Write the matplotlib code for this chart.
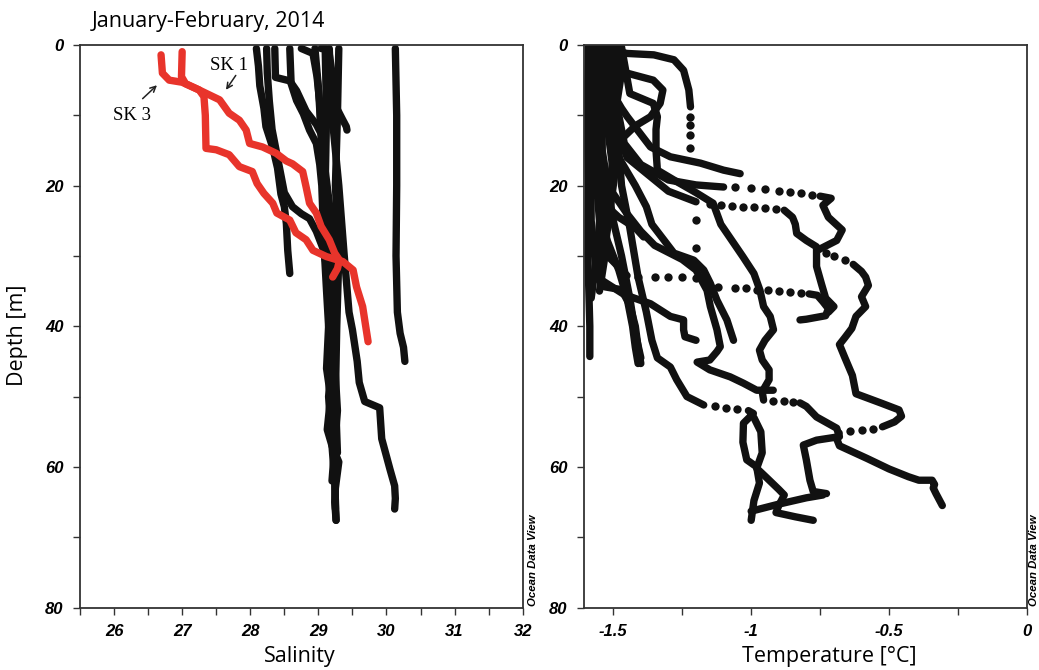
import numpy as np
import matplotlib.pyplot as plt
from matplotlib.ticker import FixedLocator, MultipleLocator

plt.rcParams['font.family'] = ['Liberation Sans', 'DejaVu Sans']

# ---- salinity profiles: (salinity, depth m)
sal_b1 = [(28.09, 0.5), (28.12, 3), (28.14, 5.8), (28.2, 9), (28.23, 11.6), (28.33, 14.6),
          (28.40, 17.5), (28.45, 21.2), (28.5, 23), (28.53, 25.4), (28.55, 29.2), (28.58, 32.5)]
sal_b2 = [(28.24, 0.5), (28.25, 4), (28.28, 8), (28.32, 12), (28.38, 15), (28.44, 18), (28.5, 21),
          (28.62, 23), (28.75, 24), (28.87, 24.7), (28.97, 26.5), (29.07, 29), (29.15, 33),
          (29.18, 40), (29.2, 47), (29.22, 55), (29.24, 60), (29.25, 66)]
sal_b3 = [(28.36, 0.5), (28.37, 4.6), (28.58, 5.1), (28.68, 6.5), (28.82, 9.4), (28.97, 11.3),
          (29.07, 13.2), (29.1, 18), (29.12, 25), (29.15, 32), (29.17, 40), (29.16, 48), (29.18, 55)]
sal_b4 = [(28.58, 0.5), (28.6, 5.5), (28.68, 7.9), (28.78, 9.8), (28.87, 12.1), (28.97, 14),
          (29.02, 17), (29.05, 20), (29.08, 28), (29.12, 35), (29.15, 40)]
sal_b5 = [(28.75, 0.5), (28.92, 1.2), (28.98, 4.5), (29.02, 8.2), (29.05, 15), (29.08, 22),
          (29.12, 30), (29.18, 38), (29.2, 45), (29.15, 50), (29.2, 57), (29.24, 62), (29.26, 67.6)]
sal_b6 = [(29.04, 0.5), (29.15, 0.6), (29.2, 4), (29.26, 8.8), (29.35, 10.5), (29.41, 11.6), (29.42, 12.1)]
sal_b7 = [(29.16, 0.5), (29.2, 10), (29.3, 20), (29.38, 30), (29.45, 38), (29.5, 40.5), (29.57, 45),
          (29.6, 48), (29.68, 50.7), (29.9, 51.6), (29.93, 56), (30.0, 58.5), (30.05, 60.3),
          (30.12, 62.7), (30.13, 64.5), (30.12, 66)]
sal_b8 = [(30.13, 0.5), (30.15, 10), (30.15, 20), (30.14, 30), (30.16, 38), (30.2, 41), (30.25, 43), (30.27, 45)]
sal_b9 = [(29.1, 0.5), (29.12, 10), (29.1, 20), (29.2, 30), (29.15, 40), (29.12, 46), (29.18, 50),
          (29.13, 54.7), (29.2, 57), (29.3, 59.3), (29.25, 63), (29.24, 65), (29.26, 67.6)]
sal_b10 = [(29.3, 0.5), (29.28, 10), (29.25, 20), (29.3, 30), (29.27, 40), (29.25, 50), (29.28, 58)]
sal_b11 = [(28.95, 0.5), (29.0, 6), (29.05, 14), (29.18, 24), (29.25, 32), (29.22, 42), (29.28, 52), (29.2, 62)]

sal_sk3 = [(26.69, 1.4), (26.71, 4.0), (26.81, 5.0), (27.0, 5.3), (27.25, 6.4), (27.32, 7.35),
           (27.34, 10), (27.35, 14.7), (27.5, 14.9), (27.69, 15.6), (27.84, 17.3), (28.03, 18.0),
           (28.1, 19.7), (28.2, 21.1), (28.33, 22.5), (28.39, 23.9), (28.58, 24.9), (28.67, 26.7),
           (28.82, 27.7), (28.92, 29.2), (29.12, 30.1), (29.36, 30.8), (29.51, 32.0), (29.56, 34.4),
           (29.65, 37.2), (29.73, 42.2)]
sal_sk1 = [(27.0, 0.95), (26.99, 4.5), (27.05, 5.5), (27.25, 6.4), (27.55, 7.8), (27.69, 9.7),
           (27.84, 10.7), (27.94, 12.1), (27.99, 14.0), (28.18, 14.5), (28.38, 15.4), (28.53, 16.5),
           (28.62, 16.9), (28.77, 18.0), (28.82, 20.2), (28.87, 22.5), (28.97, 23.9), (29.04, 25.8),
           (29.16, 27.7), (29.24, 29.6), (29.31, 30.6), (29.28, 31.8), (29.21, 33.0)]

# ---- temperature profiles: (degC, depth m); *_dots are the sparsely sampled stretches
temp_tb1 = [(-1.59, 0.3), (-1.595, 10), (-1.59, 20), (-1.592, 30), (-1.585, 40), (-1.585, 44.3)]
temp_tb2 = [(-1.57, 0.3), (-1.56, 8), (-1.57, 15), (-1.55, 25), (-1.56, 33), (-1.53, 34.4),
            (-1.47, 34.8), (-1.44, 37), (-1.42, 40), (-1.41, 43), (-1.40, 45.3)]
temp_tb3 = [(-1.545, 0.3), (-1.54, 15), (-1.5, 25), (-1.47, 30), (-1.44, 36), (-1.42, 41), (-1.40, 44.5)]
temp_tb4 = [(-1.51, 0.3), (-1.50, 5), (-1.52, 12), (-1.50, 18), (-1.53, 24), (-1.56, 30), (-1.58, 36)]
temp_tb5 = [(-1.48, 0.3), (-1.47, 4), (-1.49, 9), (-1.48, 14), (-1.5, 20), (-1.52, 26), (-1.55, 33)]
temp_s7 = [(-1.57, 0.3), (-1.56, 20), (-1.53, 27), (-1.48, 32), (-1.45, 36), (-1.43, 40), (-1.42, 43), (-1.41, 45.3)]
temp_s2 = [(-1.55, 0.3), (-1.53, 5), (-1.47, 9), (-1.449, 10.2), (-1.365, 14.5), (-1.293, 15.9),
           (-1.184, 16.8), (-1.10, 17.8), (-1.04, 18.3)]
temp_t1 = [(-1.56, 0.3), (-1.45, 1.2), (-1.353, 1.4), (-1.28, 2.1), (-1.245, 3.6), (-1.226, 6.4), (-1.22, 8.8)]
temp_t1_dots = [(-1.22, 10.2), (-1.22, 11.4), (-1.22, 12.8), (-1.22, 14.7), (-1.20, 24.9), (-1.20, 28.9)]
temp_t2 = [(-1.5, 0.3), (-1.48, 2.5), (-1.45, 4.0), (-1.355, 5.0), (-1.32, 6.4), (-1.33, 8.3),
           (-1.365, 10.2), (-1.42, 11.5), (-1.46, 13), (-1.5, 16), (-1.52, 22), (-1.53, 30), (-1.55, 35)]
temp_t3 = [(-1.47, 0.3), (-1.44, 6.9), (-1.355, 8.3), (-1.34, 10.2), (-1.345, 12), (-1.345, 15),
           (-1.34, 17.8), (-1.28, 19.2), (-1.2, 21), (-1.138, 22.5), (-1.11, 25.5), (-1.07, 27.8),
           (-1.03, 30.1), (-0.99, 32.5), (-0.968, 34.9), (-0.955, 37.2), (-0.931, 38.6), (-0.919, 40.5),
           (-0.95, 42), (-0.97, 43.4), (-0.96, 44.8), (-0.935, 46.2), (-0.935, 47.6), (-0.96, 49.3),
           (-0.955, 50.5)]
temp_t3_dots = [(-0.92, 50.6), (-0.88, 50.7), (-0.85, 50.8)]
temp_t3b = [(-0.823, 50.9), (-0.80, 51.4), (-0.763, 52.9), (-0.69, 54.5), (-0.68, 55.7), (-0.763, 56.2),
            (-0.811, 56.9), (-0.80, 59.0), (-0.787, 61.9), (-0.775, 63.5), (-0.727, 63.8)]
temp_s4 = [(-1.53, 0.3), (-1.52, 10), (-1.48, 16), (-1.42, 20), (-1.38, 23), (-1.36, 25.5),
           (-1.317, 27.7), (-1.28, 29.6), (-1.208, 30.6), (-1.172, 32), (-1.148, 33.9),
           (-1.124, 36.3), (-1.088, 39.1), (-1.064, 42)]
temp_s5 = [(-1.58, 0.3), (-1.57, 15), (-1.52, 20), (-1.45, 24), (-1.40, 26.5), (-1.35, 28.5),
           (-1.25, 30.5), (-1.2, 32), (-1.16, 34.9), (-1.148, 37.2), (-1.124, 40.5), (-1.112, 42.9),
           (-1.124, 43.6), (-1.15, 44.8), (-1.196, 45.1), (-1.15, 46.2), (-1.076, 47.2),
           (-1.028, 48.1), (-0.98, 49.1), (-0.92, 49.1)]
temp_lb = [(-1.59, 0.3), (-1.58, 20), (-1.55, 22), (-1.48, 24.5), (-1.42, 26), (-1.39, 27.3)]
temp_s6 = [(-1.585, 0.3), (-1.58, 25), (-1.56, 33), (-1.46, 35.5), (-1.365, 36.8), (-1.293, 38.6),
           (-1.245, 39.1), (-1.245, 40.5), (-1.24, 41.5), (-1.2, 42.0)]
temp_lg = [(-1.55, 0.3), (-1.54, 18), (-1.52, 30), (-1.45, 32.8)]
temp_lg_dots = [(-1.41, 33.0), (-1.35, 33.0), (-1.30, 33.0), (-1.25, 33.0), (-1.2, 33.2), (-1.12, 34.4),
                (-1.06, 34.5), (-1.02, 34.6), (-0.98, 34.8), (-0.94, 34.9), (-0.90, 35.0),
                (-0.86, 35.1), (-0.82, 35.2)]
temp_lg2 = [(-0.79, 35.4), (-0.76, 35.6), (-0.74, 36.5), (-0.72, 37.5), (-0.73, 38.5), (-0.80, 39.0), (-0.823, 39.1)]
temp_le = [(-1.52, 0.3), (-1.5, 10), (-1.45, 16), (-1.3, 20.8), (-1.2, 22.3)]
temp_le_dots = [(-1.15, 22.6), (-1.11, 22.8), (-1.07, 22.9), (-1.03, 23.0), (-0.99, 23.1), (-0.95, 23.2), (-0.91, 23.3)]
temp_le2 = [(-0.88, 23.5), (-0.85, 24.5), (-0.84, 25.5), (-0.835, 26.8), (-0.80, 27.8), (-0.763, 28.7),
            (-0.763, 31.5), (-0.745, 34.0), (-0.73, 36.0), (-0.70, 37.2), (-0.72, 38.0)]
temp_r = [(-1.5, 0.3), (-1.49, 8), (-1.46, 14), (-1.40, 17), (-1.3, 19.2), (-1.2, 19.9), (-1.1, 20.2)]
temp_r_dots = [(-1.06, 20.2), (-1.00, 20.3), (-0.95, 20.5), (-0.90, 20.7), (-0.86, 20.9), (-0.82, 21.1), (-0.78, 21.3)]
temp_r2 = [(-0.75, 21.5), (-0.71, 21.8), (-0.74, 22.8), (-0.72, 24.5), (-0.67, 26.3), (-0.69, 27.8), (-0.76, 29.2)]
temp_r2_dots = [(-0.73, 29.6), (-0.70, 30.0), (-0.66, 30.6)]
temp_r3 = [(-0.63, 31.2), (-0.60, 32.2), (-0.585, 33.0), (-0.575, 34.2), (-0.60, 35.8), (-0.585, 37.2),
           (-0.62, 38.6), (-0.635, 40.3), (-0.66, 41.6), (-0.68, 42.6), (-0.66, 44.5), (-0.633, 47.0),
           (-0.62, 49.6), (-0.524, 51.0), (-0.464, 51.9), (-0.455, 52.8), (-0.48, 53.6), (-0.524, 54.3)]
temp_r3_dots = [(-0.56, 54.6), (-0.60, 54.8), (-0.64, 54.9)]
temp_r4 = [(-0.681, 55.2), (-0.69, 56.0), (-0.68, 57.0), (-0.58, 58.8), (-0.50, 60.3), (-0.43, 61.4),
           (-0.392, 61.9), (-0.344, 61.9), (-0.335, 62.5), (-0.34, 63.0), (-0.33, 63.8), (-0.307, 65.5)]
temp_s8 = [(-1.5, 0.3), (-1.49, 10), (-1.47, 20), (-1.44, 26), (-1.41, 33), (-1.38, 38), (-1.36, 42),
           (-1.34, 44.5), (-1.293, 45.8), (-1.27, 47.6), (-1.233, 50), (-1.172, 51.2)]
temp_s8_dots = [(-1.13, 51.4), (-1.09, 51.6), (-1.05, 51.8)]
temp_s8b = [(-1.01, 52.0), (-0.992, 52.4), (-1.028, 53.8), (-1.03, 56.5), (-1.016, 59), (-0.98, 60),
            (-0.97, 62.3), (-0.99, 64.8), (-1.0, 67.6)]
temp_n = [(-0.99, 53.0), (-0.965, 55), (-0.96, 58), (-0.98, 60.2), (-0.945, 61.5), (-0.90, 63.2),
          (-0.88, 64), (-0.90, 65.5), (-0.91, 66.5), (-0.84, 67.1), (-0.775, 67.6)]
temp_x = [(-1.0, 66.3), (-0.90, 65.3), (-0.80, 64.4), (-0.74, 64.0)]

sal_black = [sal_b1, sal_b2, sal_b3, sal_b4, sal_b5, sal_b6, sal_b7, sal_b8, sal_b9, sal_b10, sal_b11]
sal_red = [sal_sk3, sal_sk1]
temp_lines = [temp_tb1, temp_tb2, temp_tb3, temp_tb4, temp_tb5, temp_s7, temp_s2, temp_t1, temp_t2,
              temp_t3, temp_t3b, temp_s4, temp_s5, temp_lb, temp_s6, temp_lg, temp_lg2, temp_le,
              temp_le2, temp_r, temp_r2, temp_r3, temp_r4, temp_s8, temp_s8b, temp_n, temp_x]
temp_dots = [temp_t1_dots, temp_t3_dots, temp_lg_dots, temp_le_dots, temp_r_dots, temp_r2_dots,
             temp_r3_dots, temp_s8_dots]

sal_ticks = [26, 27, 28, 29, 30, 31, 32]
temp_ticks = [-1.5, -1, -0.5, 0]
temp_tick_labels = ['-1.5', '-1', '-0.5', '0']
depth_ticks = [0, 20, 40, 60, 80]

W, H = 1039, 670
fig = plt.figure(figsize=(W / 100, H / 100), dpi=100)
ax1 = fig.add_axes([80 / W, 62.5 / H, 442.7 / W, 562.5 / H])
ax2 = fig.add_axes([584.3 / W, 62.5 / H, 442.7 / W, 562.5 / H])

line_kw = dict(lw=5.3, solid_capstyle='round', solid_joinstyle='round')
for prof in sal_black:
    p = np.array(prof)
    ax1.plot(p[:, 0], p[:, 1], color='#111111', zorder=2, **line_kw)
for prof in sal_red:
    p = np.array(prof)
    ax1.plot(p[:, 0], p[:, 1], color='#e8342b', zorder=3, **line_kw)
for prof in temp_lines:
    p = np.array(prof)
    ax2.plot(p[:, 0], p[:, 1], color='#111111', zorder=2, **line_kw)
for prof in temp_dots:
    p = np.array(prof)
    ax2.plot(p[:, 0], p[:, 1], 'o', color='#111111', ms=6, mew=0, zorder=2)

tick_font = dict(fontweight='bold', fontstyle='italic', fontsize=12)
for ax in (ax1, ax2):
    ax.set_ylim(80, 0)
    ax.set_yticks(depth_ticks)
    ax.set_yticklabels([str(d) for d in depth_ticks], **tick_font)
    ax.yaxis.set_minor_locator(MultipleLocator(10))
    ax.tick_params(which='both', direction='out', length=5, width=1, color='#333333', pad=7)
    for sp in ax.spines.values():
        sp.set_color('#333333')
        sp.set_linewidth(1.3)

ax1.set_xlim(25.5, 32)
ax1.set_xticks(sal_ticks)
ax1.set_xticklabels([str(t) for t in sal_ticks], **tick_font)
ax1.xaxis.set_minor_locator(MultipleLocator(0.5))

ax2.set_xlim(-1.605, 0)
ax2.set_xticks(temp_ticks)
ax2.set_xticklabels(temp_tick_labels, **tick_font)
ax2.xaxis.set_minor_locator(FixedLocator([-1.25, -0.75, -0.25]))

# station annotations
ax1.text(27.69, 2.9, 'SK 1', family='Liberation Serif', fontsize=13.5, ha='center', va='center')
ax1.annotate('', xy=(27.62, 6.7), xytext=(27.81, 4.0),
             arrowprops=dict(arrowstyle='->', lw=1.1, color='#222222'))
ax1.text(26.26, 10.0, 'SK 3', family='Liberation Serif', fontsize=13.5, ha='center', va='center')
ax1.annotate('', xy=(26.66, 5.45), xytext=(26.39, 7.9),
             arrowprops=dict(arrowstyle='->', lw=1.1, color='#222222'))

label_font = dict(family='Open Sans', fontsize=15.5)
fig.text(92 / W, 1 - 21 / H, 'January-February, 2014', ha='left', va='center', **label_font)
fig.text(300 / W, 1 - 662 / H, 'Salinity', ha='center', va='baseline', **label_font)
fig.text(829 / W, 1 - 662 / H, 'Temperature [°C]', ha='center', va='baseline', **label_font)
fig.text(18 / W, 1 - 335 / H, 'Depth [m]', rotation=90, ha='center', va='center', **label_font)

odv = dict(rotation=90, fontsize=8.2, fontweight='bold', fontstyle='italic', ha='center', va='bottom')
fig.text(533 / W, 1 - 606 / H, 'Ocean Data View', **odv)
fig.text(1034 / W, 1 - 606 / H, 'Ocean Data View', **odv)

fig.savefig('out.png', dpi=100)
